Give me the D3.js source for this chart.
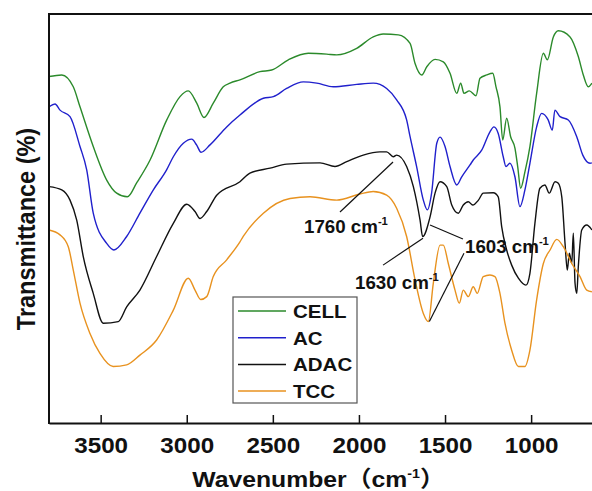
<!DOCTYPE html>
<html>
<head>
<meta charset="utf-8">
<script src="https://cdn.jsdelivr.net/npm/d3@7"></script>
<style>
  html, body { margin: 0; padding: 0; background: #fff; }
  svg { display: block; }
  text { font-family: "Liberation Sans", Arial, "Noto Sans CJK SC", sans-serif; font-weight: bold; fill: #111; }
</style>
</head>
<body>
<svg id="chart" width="592" height="491"></svg>
<script>
// FTIR spectra, [wavenumber cm-1, transmittance (a.u. %)]
const CELL = [
  [3800,84.7],[3726,85.1],[3659,82.2],[3620,77.3],[3543,67.6],[3465,59.4],[3407,56.2],[3345,55.3],
  [3291,58.7],[3213,64.3],[3116,74.1],[3039,79.8],[2991,81.2],[2942,78.2],[2900,74.7],[2846,78.2],
  [2788,82.2],[2749,83.1],[2691,83.9],[2575,85.9],[2507,86.3],[2410,88.8],[2294,90.4],[2187,90.2],
  [2129,90.0],[2013,91.6],[1917,94.4],[1859,95.1],[1771,94.9],[1703,92.8],[1674,87.9],[1635,85.1],
  [1606,87.1],[1558,88.9],[1510,88.3],[1471,85.5],[1432,80.6],[1409,83.1],[1390,80.6],[1359,81.2],
  [1320,80.0],[1297,84.3],[1258,85.1],[1223,85.5],[1204,82.2],[1181,77.3],[1165,69.2],[1142,74.5],
  [1119,70.0],[1094,67.2],[1078,62.7],[1061,57.4],[1036,61.4],[1007,67.6],[968,80.6],[929,90.4],
  [906,88.8],[871,94.4],[842,95.9],[774,94.4],[726,89.6],[697,85.1],[668,82.2],[647,83.1]
];
const AC = [
  [3800,77.3],[3765,78.0],[3736,76.5],[3678,74.9],[3620,67.6],[3581,61.9],[3543,51.3],[3465,43.9],
  [3423,42.3],[3349,45.6],[3272,51.3],[3194,57.0],[3117,61.9],[3078,65.1],[3020,68.4],[2971,69.4],
  [2943,68.0],[2917,66.2],[2865,68.0],[2768,72.4],[2691,75.3],[2555,79.4],[2497,79.8],[2420,81.8],
  [2323,83.4],[2245,83.1],[2149,82.2],[2013,82.8],[1917,83.1],[1839,81.8],[1781,79.0],[1723,74.1],
  [1703,70.0],[1665,62.7],[1626,54.5],[1603,52.1],[1578,56.2],[1548,68.4],[1529,69.9],[1500,67.6],
  [1471,62.7],[1432,58.2],[1403,60.2],[1355,63.1],[1336,64.3],[1287,66.7],[1239,71.2],[1216,72.4],
  [1191,70.8],[1162,65.1],[1146,62.7],[1123,63.5],[1094,60.2],[1065,52.9],[1036,57.0],[1007,63.5],
  [968,72.4],[939,75.7],[901,74.1],[877,71.6],[862,76.5],[832,74.9],[784,74.1],[735,70.0],
  [700,65.5],[658,63.5],[647,63.6]
];
const ADAC = [
  [3800,57.8],[3726,57.0],[3678,54.5],[3639,49.6],[3601,40.7],[3543,31.7],[3485,24.4],[3398,24.8],
  [3349,28.4],[3272,32.5],[3175,40.7],[3078,48.8],[3000,53.5],[2952,51.7],[2923,50.0],[2884,51.7],
  [2826,55.7],[2691,59.0],[2633,61.1],[2516,62.3],[2420,63.3],[2226,63.6],[2139,62.7],[2071,63.9],
  [1975,65.5],[1878,66.3],[1839,66.3],[1800,65.1],[1781,65.5],[1723,62.7],[1684,57.8],[1645,49.6],
  [1630,45.6],[1587,50.4],[1558,56.2],[1529,59.0],[1490,57.8],[1461,53.3],[1423,51.3],[1394,53.3],
  [1365,54.1],[1339,53.3],[1306,54.5],[1278,56.2],[1220,56.3],[1191,55.3],[1171,48.0],[1142,42.3],
  [1113,38.6],[1074,35.4],[1030,33.7],[1007,36.6],[978,48.8],[949,57.4],[920,58.2],[895,56.2],
  [861,59.0],[842,58.6],[822,55.3],[803,43.9],[790,37.4],[778,41.5],[764,39.0],[755,46.4],
  [745,34.2],[735,31.7],[726,38.2],[706,47.2],[677,48.4],[647,47.2]
];
const TCC = [
  [3800,47.2],[3736,46.0],[3688,43.1],[3659,37.4],[3620,29.3],[3562,21.9],[3504,17.0],[3427,13.8],
  [3349,14.2],[3272,16.6],[3175,20.3],[3078,27.6],[2991,35.4],[2952,32.5],[2919,30.2],[2884,30.9],
  [2846,35.8],[2768,39.9],[2691,44.3],[2672,45.6],[2555,51.3],[2400,54.9],[2284,55.3],[2129,54.5],
  [1994,56.0],[1917,56.6],[1839,55.7],[1781,52.5],[1723,45.6],[1674,35.0],[1626,26.8],[1597,24.8],
  [1568,34.2],[1529,43.5],[1510,43.5],[1481,39.0],[1442,32.5],[1417,29.3],[1394,32.5],[1365,30.9],
  [1336,33.3],[1313,31.7],[1278,35.8],[1239,36.2],[1210,35.8],[1181,31.7],[1152,24.4],[1113,17.8],
  [1074,13.8],[1036,13.8],[1007,17.8],[968,30.1],[929,39.0],[890,42.3],[851,44.9],[813,43.1],
  [764,39.0],[716,35.8],[677,32.5],[647,32.1]
];

const SERIES_NAMES = ['CELL', 'AC', 'ADAC', 'TCC'];
const SERIES_DATA = [CELL, AC, ADAC, TCC];
const SERIES_COLORS = ['#2b8a2b', '#2020cc', '#111111', '#e8921f'];

const X_TICKS = [3500, 3000, 2500, 2000, 1500, 1000];

// peak labels: text anchor + leader lines, in data units
const ANNOTATIONS = [
  { label: '1760', at: [2319, 46.5], lines: [[[2110, 51.6], [1802, 63.8]]] },
  { label: '1630', at: [2023, 32.8], lines: [[[1860, 38.6], [1628, 45.2]]] },
  { label: '1603', at: [1384, 41.6], lines: [[[1587, 48.4], [1396, 45.0]], [[1591, 24.8], [1390, 41.5]]] }
];

const svg = d3.select('#chart');
const M = { left: 49, top: 14, right: 600, bottom: 423 };

const x = d3.scaleLinear().domain([3800, 600]).range([M.left, M.right]);
const y = d3.scaleLinear().domain([0, 100]).range([M.bottom, M.top]);

svg.append('defs').append('clipPath').attr('id', 'plotClip')
  .append('rect').attr('x', M.left).attr('y', M.top)
  .attr('width', M.right - M.left).attr('height', M.bottom - M.top);

// Spectra
const line = d3.line().x(d => x(d[0])).y(d => y(d[1])).curve(d3.curveMonotoneX);
const plot = svg.append('g').attr('clip-path', 'url(#plotClip)');
SERIES_DATA.forEach((s, i) => {
  plot.append('path').datum(s)
    .attr('d', line)
    .attr('fill', 'none')
    .attr('stroke', SERIES_COLORS[i])
    .attr('stroke-width', 1.4)
    .attr('stroke-linejoin', 'round');
});

// Frame
svg.append('line').attr('x1', M.left).attr('x2', M.right).attr('y1', M.top).attr('y2', M.top)
  .attr('stroke', '#111').attr('stroke-width', 2);
svg.append('line').attr('x1', M.left).attr('x2', M.left).attr('y1', M.top - 1).attr('y2', M.bottom + 1)
  .attr('stroke', '#111').attr('stroke-width', 2);

// X axis, ticks pointing inward
const xAxis = d3.axisBottom(x).tickValues(X_TICKS).tickFormat(d3.format('d'))
  .tickSizeInner(-8).tickSizeOuter(0).tickPadding(14);
const gx = svg.append('g').attr('transform', `translate(0,${M.bottom})`).call(xAxis);
gx.select('.domain').attr('stroke', '#111').attr('stroke-width', 2);
gx.selectAll('.tick line').attr('stroke', '#111').attr('stroke-width', 1.5);
gx.selectAll('.tick text')
  .attr('font-family', '"Liberation Sans", Arial, sans-serif')
  .attr('font-weight', 'bold')
  .attr('font-size', 22)
  .attr('fill', '#111')
  .attr('transform', 'scale(1.1,1)');

// Axis titles
const xt = svg.append('text')
  .attr('transform', `translate(${(M.left + 592) / 2 - 2},487) scale(1.1,1)`)
  .attr('text-anchor', 'middle')
  .attr('font-size', 22.5);
xt.append('tspan').text('Wavenumber（cm');
xt.append('tspan').attr('font-size', 13).attr('dy', -9).text('-1');
xt.append('tspan').attr('dy', 9).text('）');

svg.append('text')
  .attr('transform', 'translate(35,229) rotate(-90) scale(1,1.1)')
  .attr('text-anchor', 'middle')
  .attr('font-size', 23.5)
  .text('Transmittance (%)');

// Annotations
ANNOTATIONS.forEach(a => {
  a.lines.forEach(l => {
    svg.append('line')
      .attr('x1', x(l[0][0])).attr('y1', y(l[0][1]))
      .attr('x2', x(l[1][0])).attr('y2', y(l[1][1]))
      .attr('stroke', '#111').attr('stroke-width', 1.2);
  });
  const t = svg.append('text')
    .attr('transform', `translate(${x(a.at[0])},${y(a.at[1])}) scale(1.07,1)`)
    .attr('font-size', 17.5);
  t.append('tspan').text(a.label + ' cm');
  t.append('tspan').attr('font-size', 10.5).attr('dy', -8).text('-1');
});

// Legend
const lg = svg.append('g').attr('transform', 'translate(233,297)');
lg.append('rect').attr('width', 124).attr('height', 106)
  .attr('fill', '#fff').attr('stroke', '#555').attr('stroke-width', 1.2);
SERIES_NAMES.forEach((n, i) => {
  const yy = 14 + i * 26.7;
  lg.append('line').attr('x1', 5).attr('x2', 53).attr('y1', yy).attr('y2', yy)
    .attr('stroke', SERIES_COLORS[i]).attr('stroke-width', 1.5);
  lg.append('text')
    .attr('transform', `translate(60,${yy + 7}) scale(1.08,1)`)
    .attr('font-size', 19)
    .text(n);
});
</script>
</body>
</html>
